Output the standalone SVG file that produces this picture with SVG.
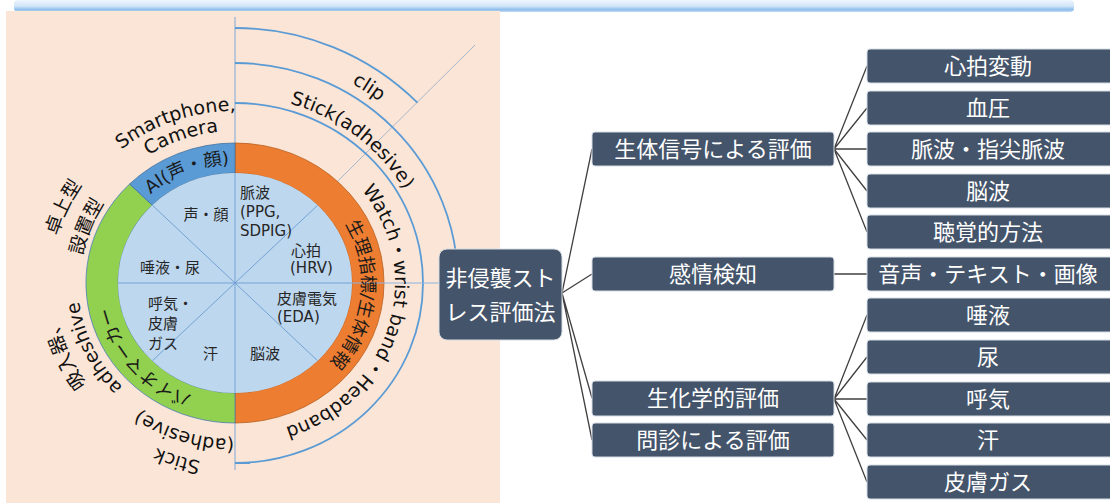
<svg xmlns="http://www.w3.org/2000/svg" width="1110" height="504" viewBox="0 0 1110 504">
<defs>
<linearGradient id="barGrad" x1="0" y1="0" x2="0" y2="1">
<stop offset="0" stop-color="#EEF5FD"/>
<stop offset="0.5" stop-color="#D3E6F9"/>
<stop offset="0.8" stop-color="#8FBEEB"/>
<stop offset="1" stop-color="#C2DBF5"/>
</linearGradient>
<path id="pAI" d="M109,268.5 A127,119 0 0 1 311.4,188"/>
<path id="pOr" d="M309.6,186.7 A127,119 0 0 1 286.7,391.7"/>
<path id="pGr" d="M257,400.2 A127,119 0 0 1 115.7,242.3"/>
<path id="pSmart" d="M57.7,253.1 A180,172 0 0 1 350.7,151.2"/>
<path id="pCam" d="M77.4,256.6 A160,152 0 0 1 337.8,166.6"/>
<path id="pTaku" d="M86.1,386.5 A184,176 0 0 1 215.8,108"/>
<path id="pSetchi" d="M114.5,376.1 A155,148 0 0 1 210.8,136.8"/>
<path id="pKyu" d="M211.2,455.5 A182,174 0 0 1 90.6,177.1"/>
<path id="pAdh" d="M221.3,431.4 A157,149 0 0 1 106.4,197.5"/>
<path id="pStick2" d="M361.5,417.5 A189,181 0 0 1 50.1,320.6"/>
<path id="pAdh2" d="M343.7,399.8 A164,156 0 0 1 74.3,314.1"/>
<path id="pStick1" d="M165.1,108.4 A195,187 0 0 1 427.6,312.2"/>
<path id="pClip" d="M133.1,75.7 A235,230 0 0 1 469.3,300.2"/>
<path id="pWatch" d="M352,179.3 A160,152 0 0 1 271,431.1"/>
</defs>
<style>
.node rect{fill:#44546A;stroke:#D6DCE4;stroke-width:1}
.node text{fill:#FFFFFF;font-family:"Noto Sans CJK JP",sans-serif;font-size:22px;text-anchor:middle}
.conn{stroke:#404040;stroke-width:1.3;fill:none}
.inner{font-family:"DejaVu Sans","Noto Sans CJK JP",sans-serif;font-size:15px;fill:#262626}
.lbl{font-family:"DejaVu Sans","Noto Sans CJK JP",sans-serif;font-size:19px;fill:#111111;text-anchor:middle}
.ring{font-family:"DejaVu Sans","Noto Sans CJK JP",sans-serif;font-size:18px;fill:#1A1A1A;text-anchor:middle}
.arc{fill:none;stroke:#5B9BD5;stroke-width:1.8}
.sec{stroke:#6C9BD2;stroke-width:0.9}
</style>
<rect x="0" y="0" width="1110" height="504" fill="#FFFFFF"/>
<g id="topbar">
<rect x="14" y="0" width="1060" height="12" rx="4" fill="url(#barGrad)"/>
</g>
<g id="background">
<rect x="6" y="11" width="494" height="492" fill="#FBE5D6"/>
</g>
<g id="wheel">
<line x1="235" y1="283" x2="475" y2="45" stroke="#A7B7CA" stroke-width="1"/>
<line x1="235" y1="17" x2="235" y2="470" stroke="#7FA7D6" stroke-width="1"/>
<path class="arc" d="M235,28 A258,255 0 0 1 417.4,102.7"/>
<path class="arc" d="M235,63 A223,220 0 0 1 458,283"/>
<path class="arc" d="M235,103 A188,180 0 0 1 235,463 L250,463"/>
<path d="M235,143 A149,140 0 0 1 235,423 L235,393 A117,110 0 0 0 235,173 Z" fill="#ED7D31" stroke="#B8601F" stroke-width="0.8"/>
<path d="M235,423 A149,140 0 0 1 129.6,184 L152.3,205.2 A117,110 0 0 0 235,393 Z" fill="#92D050" stroke="#4A7EBB" stroke-width="0.8"/>
<path d="M129.6,184 A149,140 0 0 1 235,143 L235,173 A117,110 0 0 0 152.3,205.2 Z" fill="#5B9BD5" stroke="#41719C" stroke-width="0.8"/>
<ellipse cx="235" cy="283" rx="117" ry="110" fill="#BDD7EE"/>
<line class="sec" x1="235" y1="173" x2="235" y2="393"/>
<line class="sec" x1="118" y1="283" x2="352" y2="283"/>
<line x1="352" y1="283" x2="440" y2="283" stroke="#8DB4E2" stroke-width="1"/>
<line class="sec" x1="152.3" y1="205.2" x2="317.7" y2="360.8"/>
<line class="sec" x1="152.3" y1="360.8" x2="317.7" y2="205.2"/>
<text class="inner" x="206" y="220" text-anchor="middle">声・顔</text>
<text class="inner" x="240" y="198">脈波</text>
<text class="inner" x="240" y="217">(PPG,</text>
<text class="inner" x="240" y="236">SDPIG)</text>
<text class="inner" x="291" y="256">心拍</text>
<text class="inner" x="290" y="273">(HRV)</text>
<text class="inner" x="170" y="273" text-anchor="middle">唾液・尿</text>
<text class="inner" x="277" y="304">皮膚電気</text>
<text class="inner" x="277" y="322">(EDA)</text>
<text class="inner" x="148" y="309">呼気・</text>
<text class="inner" x="148" y="329">皮膚</text>
<text class="inner" x="148" y="349">ガス</text>
<text class="inner" x="203" y="359">汗</text>
<text class="inner" x="250" y="359">脳波</text>
<text class="ring" font-size="16"><textPath href="#pAI" startOffset="50%">AI(声・顔)</textPath></text>
<text class="ring"><textPath href="#pOr" startOffset="50%">生理指標/生体情報</textPath></text>
<text class="ring"><textPath href="#pGr" startOffset="50%">バイオマーカー</textPath></text>
<text class="lbl" font-size="19"><textPath href="#pSmart" startOffset="50%">Smartphone,</textPath></text>
<text class="lbl" font-size="19"><textPath href="#pCam" startOffset="50%">Camera</textPath></text>
<text class="lbl" font-size="20"><textPath href="#pTaku" startOffset="50%">卓上型</textPath></text>
<text class="lbl" font-size="20"><textPath href="#pSetchi" startOffset="50%">設置型</textPath></text>
<text class="lbl" font-size="20"><textPath href="#pKyu" startOffset="50%">吸入器、</textPath></text>
<text class="lbl"><textPath href="#pAdh" startOffset="50%">adheshive</textPath></text>
<text class="lbl"><textPath href="#pStick2" startOffset="50%">Stick</textPath></text>
<text class="lbl"><textPath href="#pAdh2" startOffset="50%">(adhesive)</textPath></text>
<text class="lbl"><textPath href="#pStick1" startOffset="50%">Stick(adhesive)</textPath></text>
<text class="lbl"><textPath href="#pClip" startOffset="50%">clip</textPath></text>
<text class="lbl" font-size="16.5"><textPath href="#pWatch" startOffset="50%">Watch・wrist band・Headband</textPath></text>
</g>
<g id="connectors">
<path class="conn" d="M562,293 L592,149 M562,293 L592,274 M562,293 L592,398 M562,293 L592,440"/>
<path class="conn" d="M834,149 L867,66 M834,149 L867,108 M834,149 L867,149 M834,149 L867,191 M834,149 L867,232"/>
<path class="conn" d="M834,274 L867,274"/>
<path class="conn" d="M834,399 L867,315 M834,399 L867,357 M834,399 L867,399 M834,399 L867,440 M834,399 L867,482"/>
</g>
<g id="root" class="node">
<rect x="439" y="249" width="123" height="91" rx="8"/>
<text x="500.5" y="286" font-size="21">非侵襲スト</text>
<text x="500.5" y="320" font-size="21">レス評価法</text>
</g>
<g id="n-seitai" class="node"><rect x="592" y="132" width="242" height="34" rx="3"/><text x="713" y="157">生体信号による評価</text></g>
<g id="n-kanjo" class="node"><rect x="592" y="257" width="242" height="34" rx="3"/><text x="713" y="282">感情検知</text></g>
<g id="n-seika" class="node"><rect x="592" y="381" width="242" height="35" rx="3"/><text x="713" y="406">生化学的評価</text></g>
<g id="n-monshin" class="node"><rect x="592" y="423" width="242" height="34" rx="3"/><text x="713" y="448">問診による評価</text></g>
<g id="n-hrv" class="node"><rect x="867" y="49" width="246" height="34" rx="3"/><text x="988" y="74">心拍変動</text></g>
<g id="n-bp" class="node"><rect x="867" y="91" width="246" height="34" rx="3"/><text x="988" y="116">血圧</text></g>
<g id="n-pulse" class="node"><rect x="867" y="132" width="246" height="34" rx="3"/><text x="988" y="157">脈波・指尖脈波</text></g>
<g id="n-eeg" class="node"><rect x="867" y="174" width="246" height="34" rx="3"/><text x="988" y="199">脳波</text></g>
<g id="n-audio" class="node"><rect x="867" y="215" width="246" height="34" rx="3"/><text x="988" y="240">聴覚的方法</text></g>
<g id="n-voice" class="node"><rect x="867" y="257" width="246" height="34" rx="3"/><text x="988" y="282">音声・テキスト・画像</text></g>
<g id="n-saliva" class="node"><rect x="867" y="298" width="246" height="34" rx="3"/><text x="988" y="323">唾液</text></g>
<g id="n-urine" class="node"><rect x="867" y="340" width="246" height="34" rx="3"/><text x="988" y="365">尿</text></g>
<g id="n-breath" class="node"><rect x="867" y="382" width="246" height="34" rx="3"/><text x="988" y="407">呼気</text></g>
<g id="n-sweat" class="node"><rect x="867" y="423" width="246" height="34" rx="3"/><text x="988" y="448">汗</text></g>
<g id="n-skin" class="node"><rect x="867" y="465" width="246" height="34" rx="3"/><text x="988" y="490">皮膚ガス</text></g>
</svg>
